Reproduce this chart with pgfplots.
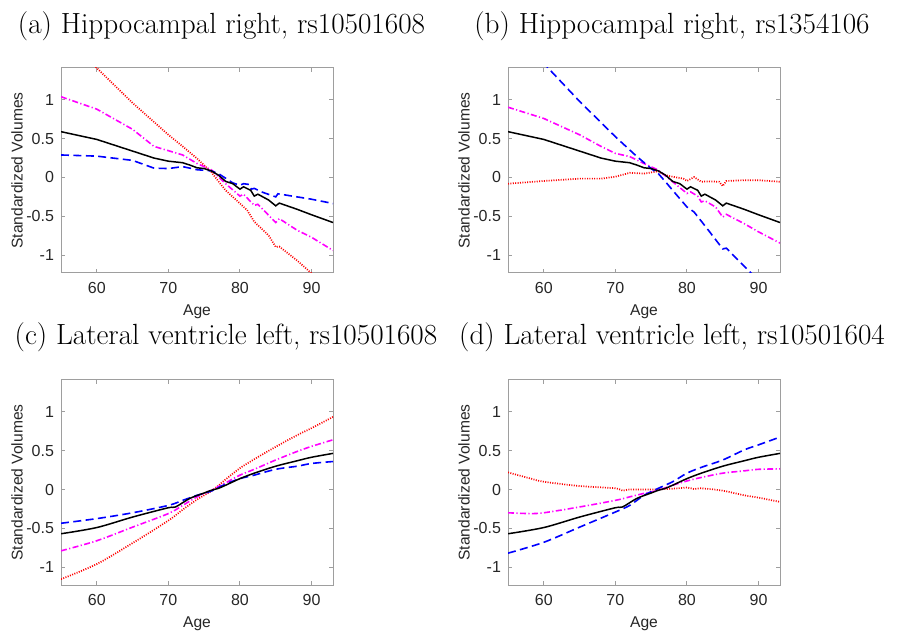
\documentclass[border=0pt]{standalone}
\usepackage{fontspec}
\setmainfont{Latin Modern Roman}
\newfontfamily\arial{Liberation Sans}
\usepackage{pgfplots}
\pgfplotsset{compat=1.18}
\definecolor{boxgray}{gray}{0.62}
\definecolor{txtgray}{gray}{0.15}
\definecolor{mgnt}{rgb}{1,0,1}
\definecolor{bl}{rgb}{0,0,1}
\definecolor{rd}{rgb}{1,0,0}
\tikzset{ttl/.style={font=\fontsize{14.6}{16}\selectfont}}
\pgfplotsset{
  panel/.style={
    scale only axis, width=136pt, height=102.5pt,
    xmin=55, xmax=93, ymin=-1.23, ymax=1.41,
    xtick={60,70,80,90}, xticklabels={60,70,80,90},
    ytick={-1,-0.5,0,0.5,1}, yticklabels={-1,-0.5,0,0.5,1},
    tick align=inside, major tick length=2pt,
    axis line style={boxgray, line width=0.5pt},
    tick style={boxgray, line width=0.5pt},
    ticklabel style={font=\arial\fontsize{8}{9}\selectfont, text=txtgray},
    xticklabel style={yshift=-1pt},
    label style={font=\arial\fontsize{7.8}{9}\selectfont, text=txtgray},
    xlabel={Age}, ylabel={Standardized Volumes},
    xlabel style={at={(axis description cs:0.5,-0.19)}, anchor=center},
    ylabel style={at={(axis description cs:-0.162,0.5)}, anchor=center},
    clip=true,
  },
  blk/.style={black, line width=0.75pt},
  blu/.style={bl, line width=0.8pt, dash pattern=on 4pt off 2.2pt},
  mag/.style={mgnt, line width=0.8pt, dash pattern=on 3pt off 1.2pt on 0.6pt off 1.2pt},
  rdd/.style={rd, line width=0.85pt, dash pattern=on 0.5pt off 0.7pt},
}
\begin{document}
\begin{tikzpicture}
\useasboundingbox (0,0) rectangle (448.5pt,-317.5pt);
\node[ttl] at (110.75pt,-13pt) {(a) Hippocampal right, rs10501608};
\node[ttl] at (336pt,-13pt) {(b) Hippocampal right, rs1354106};
\node[ttl] at (113pt,-168.5pt) {(c) Lateral ventricle left, rs10501608};
\node[ttl] at (336pt,-168.5pt) {(d) Lateral ventricle left, rs10501604};

% (a)
\begin{axis}[panel, at={(30.5pt,-136.5pt)}, anchor=south west]
\addplot[rdd] coordinates {(55,1.85) (60,1.41) (65,0.96) (70,0.55) (72,0.40) (74,0.245) (76,0.07) (77,-0.05) (78,-0.165) (80,-0.335) (81,-0.42) (82,-0.57) (84,-0.745) (85,-0.895) (85.5,-0.89) (88,-1.07) (90,-1.235) (93,-1.45)};
\addplot[mag] coordinates {(55,1.04) (60,0.88) (65,0.62) (68,0.40) (70,0.345) (72,0.29) (74,0.18) (76,0.10) (77,0.01) (78,-0.08) (80,-0.24) (80.5,-0.215) (82,-0.36) (82.5,-0.345) (85,-0.58) (85.5,-0.53) (88,-0.68) (90,-0.77) (93,-0.94)};
\addplot[blu] coordinates {(55,0.29) (60,0.275) (65,0.22) (68,0.12) (70,0.115) (72,0.14) (74,0.10) (76,0.085) (77,0.05) (78,-0.01) (79,-0.07) (80,-0.10) (80.5,-0.08) (81.3,-0.09) (81.6,-0.15) (82,-0.14) (83,-0.185) (85,-0.25) (85.3,-0.21) (88,-0.25) (90,-0.28) (93,-0.335)};
\addplot[blk] coordinates {(55,0.59) (58,0.53) (60,0.49) (63,0.40) (65,0.34) (68,0.25) (70,0.21) (72,0.19) (73,0.16) (74,0.125) (75,0.115) (76,0.085) (77,0.03) (78,-0.05) (79,-0.08) (80,-0.15) (80.5,-0.12) (81.5,-0.165) (82,-0.24) (82.5,-0.215) (84,-0.29) (85,-0.365) (85.5,-0.33) (88,-0.41) (90,-0.48) (93,-0.58)};
\end{axis}

% (b)
\begin{axis}[panel, at={(254pt,-136.5pt)}, anchor=south west]
\addplot[rdd] coordinates {(55,-0.08) (60,-0.045) (65,-0.015) (68,-0.015) (70,0.01) (72,0.06) (74,0.05) (76,0.08) (77,0.03) (78,0.01) (79.5,-0.015) (80,-0.045) (81,0.005) (82,-0.055) (83,-0.05) (84.5,-0.055) (85,-0.11) (85.5,-0.045) (88,-0.035) (90,-0.035) (93,-0.055)};
\addplot[mag] coordinates {(55,0.905) (60,0.76) (65,0.55) (68,0.40) (70,0.31) (72,0.27) (74,0.18) (76,0.095) (77,0.02) (78,-0.055) (80,-0.205) (80.5,-0.185) (81.5,-0.24) (82,-0.315) (82.5,-0.30) (84,-0.38) (85,-0.51) (85.5,-0.475) (88,-0.595) (90,-0.70) (93,-0.845)};
\addplot[blu] coordinates {(55,1.95) (60.6,1.41) (65,0.98) (70,0.525) (73,0.27) (75,0.115) (76,0.05) (77,-0.055) (78,-0.165) (80,-0.38) (81,-0.445) (83,-0.68) (85,-0.92) (85.5,-0.91) (87,-1.05) (89,-1.235) (93,-1.6)};
\addplot[blk] coordinates {(55,0.59) (58,0.53) (60,0.49) (63,0.40) (65,0.34) (68,0.25) (70,0.21) (72,0.19) (73,0.16) (74,0.125) (75,0.115) (76,0.085) (77,0.03) (78,-0.05) (79,-0.08) (80,-0.15) (80.5,-0.12) (81.5,-0.165) (82,-0.24) (82.5,-0.215) (84,-0.29) (85,-0.365) (85.5,-0.33) (88,-0.41) (90,-0.48) (93,-0.58)};
\end{axis}

% (c)
\begin{axis}[panel, at={(30.5pt,-292.5pt)}, anchor=south west]
\addplot[rdd, smooth, tension=0.5] coordinates {(55,-1.155) (60,-0.96) (65,-0.69) (70,-0.40) (72,-0.26) (74,-0.13) (76,-0.02) (77,0.05) (78,0.13) (80,0.275) (82,0.39) (85,0.55) (88,0.70) (90,0.79) (93,0.935)};
\addplot[mag, smooth, tension=0.5] coordinates {(55,-0.79) (60,-0.66) (65,-0.485) (70,-0.31) (72,-0.205) (74,-0.095) (76,-0.01) (78,0.085) (80,0.185) (82,0.26) (85,0.38) (88,0.49) (90,0.555) (93,0.64)};
\addplot[blu, smooth, tension=0.5] coordinates {(55,-0.435) (60,-0.375) (65,-0.30) (70,-0.205) (72,-0.14) (74,-0.075) (76,-0.02) (78,0.07) (80,0.14) (82,0.185) (85,0.26) (88,0.30) (90,0.335) (93,0.36)};
\addplot[blk, smooth, tension=0.5] coordinates {(55,-0.57) (60,-0.49) (65,-0.355) (70,-0.235) (71,-0.225) (73,-0.115) (75,-0.045) (76,-0.01) (77,0.015) (78,0.055) (80,0.14) (82,0.21) (85,0.30) (88,0.37) (90,0.415) (93,0.465)};
\end{axis}

% (d)
\begin{axis}[panel, at={(254pt,-292.5pt)}, anchor=south west]
\addplot[rdd, smooth, tension=0.5] coordinates {(55,0.22) (58,0.145) (60,0.10) (65,0.045) (70,0.015) (71,-0.015) (72,0) (75,0) (78,0.01) (80,0.025) (81,0.005) (82,0.015) (85,-0.015) (88,-0.075) (90,-0.105) (93,-0.16)};
\addplot[mag, smooth, tension=0.5] coordinates {(55,-0.30) (58,-0.31) (60,-0.30) (65,-0.225) (70,-0.14) (72,-0.095) (74,-0.05) (76,-0.01) (78,0.055) (80,0.11) (82,0.155) (85,0.21) (88,0.24) (90,0.26) (93,0.265)};
\addplot[blu, smooth, tension=0.5] coordinates {(55,-0.82) (60,-0.68) (65,-0.485) (70,-0.29) (72,-0.205) (74,-0.075) (76,0.015) (78,0.10) (80,0.21) (82,0.285) (85,0.38) (88,0.51) (90,0.575) (93,0.675)};
\addplot[blk, smooth, tension=0.5] coordinates {(55,-0.57) (60,-0.49) (65,-0.355) (70,-0.235) (71,-0.225) (73,-0.115) (75,-0.045) (76,-0.01) (77,0.015) (78,0.055) (80,0.14) (82,0.21) (85,0.30) (88,0.37) (90,0.415) (93,0.465)};
\end{axis}
\end{tikzpicture}
\end{document}
